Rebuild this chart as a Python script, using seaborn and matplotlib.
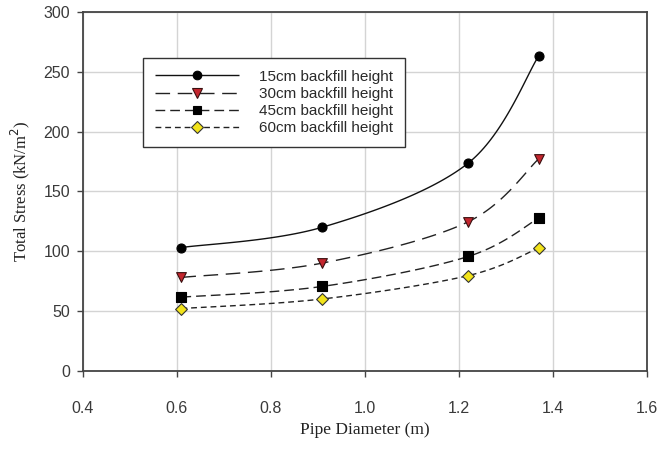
import numpy as np
import pandas as pd
import matplotlib
matplotlib.use("Agg")
import matplotlib.pyplot as plt
from matplotlib.lines import Line2D
import seaborn as sns

# ---- data ----
diameters = [0.61, 0.91, 1.22, 1.37]
series_names = ["15cm backfill height", "30cm backfill height",
                "45cm backfill height", "60cm backfill height"]
stress_15 = [103, 120, 173.5, 263]
stress_30 = [78, 90, 124.5, 177]
stress_45 = [61.5, 70.5, 95.5, 127.5]
stress_60 = [52, 60, 79.5, 102.5]
y_ticks = [0, 50, 100, 150, 200, 250, 300]
x_ticks = [0.4, 0.6, 0.8, 1.0, 1.2, 1.4, 1.6]

sns.set_theme(style="white")
plt.rcParams["font.family"] = ["Liberation Sans", "DejaVu Sans"]
plt.rcParams["lines.scale_dashes"] = False

fig = plt.figure(figsize=(6.57, 4.51), dpi=100)
ax = fig.add_axes([0.1259, 0.178, 0.8584, 0.7956])

styles = [
    dict(color="#111111", ls=(0, ()), marker="o", mfc="#000000", mec="#000000", ms=6.5),
    dict(color="#222222", ls=(0, (10.5, 5.5)), marker="v", mfc="#c4262e", mec="#3a1010", ms=7),
    dict(color="#222222", ls=(0, (7, 3.6)), marker="s", mfc="#000000", mec="#000000", ms=6.5),
    dict(color="#222222", ls=(0, (4.2, 2.8)), marker="D", mfc="#f2e31a", mec="#333333", ms=6),
]
all_vals = [stress_15, stress_30, stress_45, stress_60]

# x scaled to roughly match pixel aspect for smooth (Excel-like) curves
xs_scale = 391.4


def smooth(xv, yv, n=40):
    P = np.column_stack([np.asarray(xv) * xs_scale, np.asarray(yv, float)])
    Pe = np.vstack([P[0], P, P[-1]])
    out = []
    for i in range(len(P) - 1):
        p0, p1, p2, p3 = Pe[i], Pe[i + 1], Pe[i + 2], Pe[i + 3]
        c1 = p1 + (p2 - p0) / 6.0
        c2 = p2 - (p3 - p1) / 6.0
        t = np.linspace(0, 1, n)[:, None]
        seg = ((1 - t) ** 3) * p1 + 3 * ((1 - t) ** 2) * t * c1 + 3 * (1 - t) * t ** 2 * c2 + t ** 3 * p2
        out.append(seg if i == 0 else seg[1:])
    S = np.vstack(out)
    return S[:, 0] / xs_scale, S[:, 1]


handles = []
for name, vals, st in zip(series_names, all_vals, styles):
    sx, sy = smooth(diameters, vals)
    dense = pd.DataFrame({"d": sx, "s": sy, "i": np.arange(len(sx))})
    sns.lineplot(data=dense, x="d", y="s", ax=ax, color=st["color"], lw=1.0,
                 linestyle=st["ls"], sort=False, estimator=None, legend=False, zorder=3)
    pts = pd.DataFrame({"d": diameters, "s": vals})
    sns.scatterplot(data=pts, x="d", y="s", ax=ax, marker=st["marker"], color=st["mfc"],
                    edgecolor=st["mec"], linewidth=0.8, s=st["ms"] ** 2, legend=False, zorder=4)
    handles.append(Line2D([0], [0], color=st["color"], lw=1.0, linestyle=st["ls"],
                          marker=st["marker"], mfc=st["mfc"], mec=st["mec"], ms=st["ms"] * 0.95,
                          mew=0.8, label=name))

ax.set_xlim(0.4, 1.6)
ax.set_ylim(0, 300)
ax.set_xticks(x_ticks)
ax.set_yticks(y_ticks)
ax.set_xticklabels([f"{v:.1f}" for v in x_ticks])
ax.set_yticklabels([str(v) for v in y_ticks])
ax.grid(True, color="#d4d4d4", lw=1.0)
ax.set_axisbelow(True)
for sp in ax.spines.values():
    sp.set_color("#444444")
    sp.set_linewidth(1.3)
    sp.set_visible(True)
ax.tick_params(axis="both", which="major", direction="out", length=4, width=1,
               color="#444444", labelsize=11.5, labelcolor="#3a3a3a")
ax.tick_params(axis="x", pad=18)
ax.tick_params(axis="y", pad=5)
ax.tick_params(left=True, bottom=True)

ax.set_xlabel("Pipe Diameter (m)", fontfamily="Liberation Serif", fontsize=12.5,
              color="#222222", labelpad=4)
ax.set_ylabel("Total Stress (kN/m$^2$)", fontfamily="Liberation Serif", fontsize=12,
              color="#222222", labelpad=8)

leg = ax.legend(handles=handles, loc="upper left", bbox_to_anchor=(0.1064, 0.8726),
                borderaxespad=0, frameon=True, fancybox=False, shadow=False,
                fontsize=11, handlelength=5.5, handletextpad=1.3, labelspacing=0.2,
                borderpad=0.8, numpoints=1)
leg.get_frame().set_edgecolor("#333333")
leg.get_frame().set_linewidth(1.0)
leg.get_frame().set_facecolor("white")
leg.get_frame().set_alpha(1.0)
for t in leg.get_texts():
    t.set_color("#2a2a2a")

fig.savefig("out.png", dpi=100)
